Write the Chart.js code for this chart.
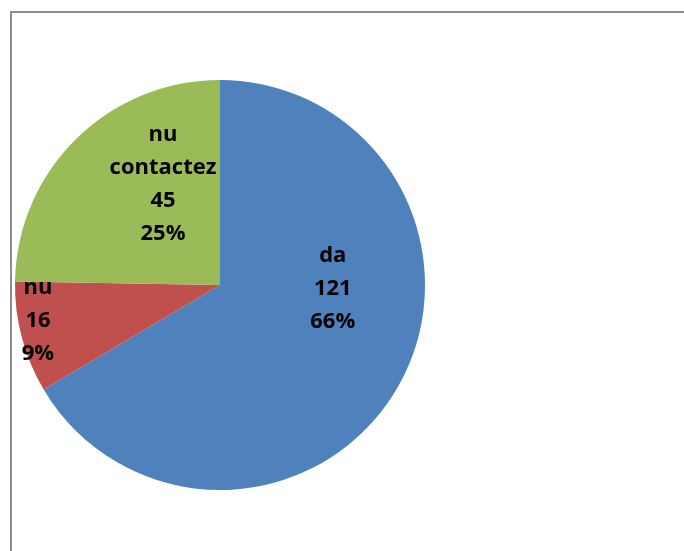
<!DOCTYPE html>
<html>
<head>
<meta charset="utf-8">
<script src="https://cdn.jsdelivr.net/npm/chart.js@4/dist/chart.umd.min.js"></script>
<style>
  html, body { margin: 0; padding: 0; background: #fff; overflow: hidden; }
  #frame {
    position: absolute; left: 10px; top: 11px; width: 700px; height: 600px;
    border: 2px solid #8c8c8c; box-sizing: border-box;
  }
  #wrap { position: absolute; left: 0; top: 0; width: 684px; height: 551px; }
</style>
</head>
<body>
<div id="frame"></div>
<div id="wrap"><canvas id="chart" width="684" height="551"></canvas></div>
<script>
// pie: answers to "contactat?"
const categories = ["da", "nu", "nu contactez"];
const counts = [121, 16, 45];
const percents = ["66%", "9%", "25%"];
const colors = ["#4f81bd", "#c0504d", "#9bbb59"];

// where each label block sits, as fractions of the radius from the centre
const labelSpots = [[0.55, 0.02], [-0.888, 0.175], [-0.278, -0.49]];

// Excel style labels: name / value / percent, stacked
const sliceLabels = {
  id: "sliceLabels",
  afterDatasetsDraw(chart) {
    const ctx = chart.ctx;
    const meta = chart.getDatasetMeta(0);
    ctx.save();
    ctx.fillStyle = "#000";
    ctx.font = "700 22px 'Open Sans'";
    ctx.textAlign = "center";
    ctx.textBaseline = "middle";
    meta.data.forEach((arc, i) => {
      const r = arc.outerRadius;
      const cx = arc.x + labelSpots[i][0] * r;
      const cy = arc.y + labelSpots[i][1] * r;
      const lines = categories[i].split(" ").concat([String(counts[i]), percents[i]]);
      const lh = 33;
      const top = cy - (lines.length - 1) * lh / 2;
      lines.forEach((t, k) => ctx.fillText(t, cx, top + k * lh));
    });
    ctx.restore();
  },
};

new Chart(document.getElementById("chart"), {
  type: "pie",
  data: {
    labels: categories,
    datasets: [{
      data: counts,
      backgroundColor: colors,
      borderWidth: 0,
    }],
  },
  options: {
    responsive: false,
    animation: false,
    layout: { padding: { left: 15, top: 80, right: 259, bottom: 61 } },
    plugins: {
      legend: { display: false },
      tooltip: { enabled: false },
    },
  },
  plugins: [sliceLabels],
});
</script>
</body>
</html>
